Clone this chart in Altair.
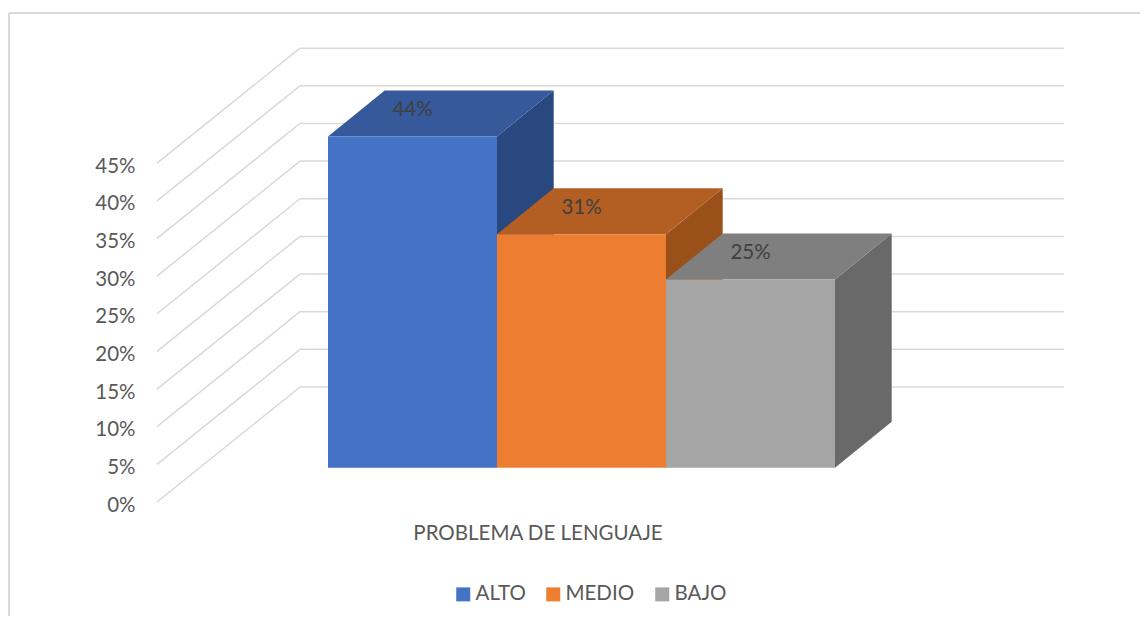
import altair as alt
import pandas as pd

# ---- chart values
series = ["ALTO", "MEDIO", "BAJO"]
values = [44, 31, 25]
ticks = [0, 5, 10, 15, 20, 25, 30, 35, 40, 45]
front_colors = ["#4472C4", "#ED7D31", "#A5A5A5"]
top_colors = ["#35599B", "#B35E22", "#7F7F7F"]
side_colors = ["#2A4880", "#995019", "#696969"]
axis_title = "PROBLEMA DE LENGUAJE"

# ---- projection of the pseudo-3D scene, in scale units (bar widths, percent)
FONT = "Lato"
X_MAX = 907 / 169
Y_MAX = 455 / 7.53
WALL_DX, WALL_DY = 143 / 169, 115 / 7.53
BAR_DX, BAR_DY = 56.7 / 169, 46 / 7.53
BAR_X0 = 171 / 169
BAR_BASE = 34.3 / 7.53

x_scale = alt.Scale(domain=[0, X_MAX], nice=False, zero=False)
y_scale = alt.Scale(domain=[0, Y_MAX], nice=False, zero=False)

x_axis = alt.Axis(title=axis_title, labels=False, ticks=False, domain=False,
                  grid=False, titleFont=FONT, titleFontSize=20.5,
                  titleFontWeight="normal", titleColor="#595959",
                  titleX=380.5, titleY=31, titleBaseline="middle",
                  titleAnchor="middle", titleAlign="center")
y_axis = alt.Axis(values=ticks, labelExpr="datum.value + '%'", title=None,
                  domain=False, ticks=False, grid=False, labelPadding=22,
                  labelOffset=3,
                  labelFont=FONT, labelFontSize=20.5, labelColor="#595959")

wall = pd.DataFrame({"t": ticks})
wall["y_back"] = wall["t"] + WALL_DY
wall["x0"], wall["x1"], wall["x2"] = 0.0, WALL_DX, X_MAX

front_rows, top_rows, side_rows, label_rows = [], [], [], []
for i, (name, v) in enumerate(zip(series, values)):
    x0 = BAR_X0 + i
    x1 = x0 + 1
    y0 = BAR_BASE
    y1 = BAR_BASE + v
    front_rows.append({"serie": name, "x": x0, "x2": x1, "y": y0, "y2": y1})
    for px, ya, yb in [
        (x0, y1, y1),
        (x0 + BAR_DX, y1 + BAR_DY, y1),
        (x1, y1 + BAR_DY, y1),
        (x1 + BAR_DX, y1 + BAR_DY, y1 + BAR_DY),
    ]:
        top_rows.append({"fill": top_colors[i], "x": px, "y": ya, "y2": yb})
    for px, ya, yb in [(x1, y1, y0), (x1 + BAR_DX, y1 + BAR_DY, y0 + BAR_DY)]:
        side_rows.append({"fill": side_colors[i], "x": px, "y": ya, "y2": yb})
    label_rows.append({"x": x0 + 0.5, "y": y1 + 3.45, "label": f"{v}%"})

X = alt.X("x:Q", scale=x_scale, axis=x_axis)
Y = alt.Y("y:Q", scale=y_scale, axis=y_axis)

side_grid = alt.Chart(wall).mark_rule(color="#D9D9D9", strokeWidth=1.5).encode(
    x=alt.X("x0:Q", scale=x_scale, axis=x_axis), x2="x1:Q",
    y=alt.Y("t:Q", scale=y_scale, axis=y_axis), y2="y_back:Q",
)
back_grid = alt.Chart(wall).mark_rule(color="#D9D9D9", strokeWidth=1.5).encode(
    x=alt.X("x1:Q", scale=x_scale, axis=x_axis), x2="x2:Q",
    y=alt.Y("y_back:Q", scale=y_scale, axis=y_axis),
)
sides = alt.Chart(pd.DataFrame(side_rows)).mark_area().encode(
    x=X, y=Y, y2="y2:Q", color=alt.Color("fill:N", scale=None))
tops = alt.Chart(pd.DataFrame(top_rows)).mark_area().encode(
    x=X, y=Y, y2="y2:Q", color=alt.Color("fill:N", scale=None))
fronts = alt.Chart(pd.DataFrame(front_rows)).mark_rect().encode(
    x=X, x2="x2:Q", y=Y, y2="y2:Q",
    color=alt.Color(
        "serie:N",
        scale=alt.Scale(domain=series, range=front_colors),
        legend=alt.Legend(
            orient="none", legendX=296, legendY=537, direction="horizontal",
            title=None, symbolType="square", symbolSize=196, symbolStrokeWidth=0,
            labelFont=FONT, labelFontSize=20.5, labelColor="#595959",
            columnPadding=17, labelOffset=2, rowPadding=0,
        ),
    ),
)
labels = alt.Chart(pd.DataFrame(label_rows)).mark_text(
    font=FONT, fontSize=20.5, color="#404040", baseline="middle", align="center"
).encode(x=X, y=Y, text="label:N")

border_top = alt.Chart(pd.DataFrame({"a": [0]})).mark_rule(color="#D9D9D9", strokeWidth=2).encode(
    x=alt.value(-148), x2=alt.value(991), y=alt.value(-34))
border_left = alt.Chart(pd.DataFrame({"a": [0]})).mark_rule(color="#D9D9D9", strokeWidth=2).encode(
    x=alt.value(-148), y=alt.value(-34), y2=alt.value(569))

chart = (
    alt.layer(border_top, border_left, side_grid, back_grid, sides, tops, fronts, labels)
    .resolve_scale(color="independent")
    .properties(
        width=907, height=455,
        padding={"left": 149, "top": 39, "right": 76, "bottom": 114},
        autosize=alt.AutoSizeParams(type="none"),
        background="white",
    )
    .configure_view(stroke=None)
)
chart.save("out.html", embed_options={"renderer": "svg", "actions": False})
